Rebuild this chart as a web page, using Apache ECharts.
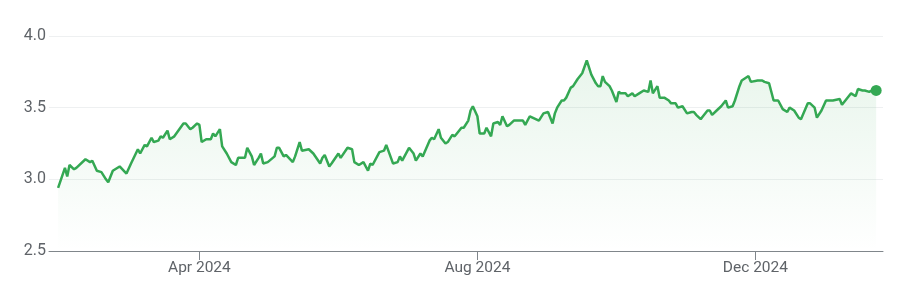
<!DOCTYPE html>
<html>
<head>
<meta charset="utf-8">
<script src="https://cdn.jsdelivr.net/npm/echarts@6/dist/echarts.min.js"></script>
<style>
html,body{margin:0;padding:0;background:#fff;}
#chart{width:903px;height:302px;}
</style>
</head>
<body>
<div id="chart"></div>
<script>
const dates = [
'2024-01-30','2024-02-02','2024-02-03','2024-02-04','2024-02-06','2024-02-07','2024-02-11','2024-02-13','2024-02-14','2024-02-16',
'2024-02-18','2024-02-20','2024-02-21','2024-02-23','2024-02-26','2024-02-29','2024-03-02','2024-03-05','2024-03-06','2024-03-08',
'2024-03-09','2024-03-11','2024-03-12','2024-03-14','2024-03-15','2024-03-16','2024-03-18','2024-03-19','2024-03-21','2024-03-25',
'2024-03-26','2024-03-28','2024-03-29','2024-03-31','2024-04-01','2024-04-02','2024-04-04','2024-04-06','2024-04-07','2024-04-08',
'2024-04-10','2024-04-11','2024-04-13','2024-04-15','2024-04-17','2024-04-18','2024-04-21','2024-04-22','2024-04-24','2024-04-25',
'2024-04-27','2024-04-28','2024-04-29','2024-05-01','2024-05-04','2024-05-05','2024-05-06','2024-05-08','2024-05-09','2024-05-12',
'2024-05-13','2024-05-15','2024-05-16','2024-05-19','2024-05-21','2024-05-24','2024-05-25','2024-05-26','2024-05-28','2024-05-29',
'2024-06-01','2024-06-02','2024-06-05','2024-06-07','2024-06-08','2024-06-10','2024-06-12','2024-06-14','2024-06-15','2024-06-16',
'2024-06-19','2024-06-21','2024-06-22','2024-06-25','2024-06-27','2024-06-28','2024-06-29','2024-07-01','2024-07-02','2024-07-04',
'2024-07-05','2024-07-07','2024-07-08','2024-07-11','2024-07-12','2024-07-13','2024-07-15','2024-07-16','2024-07-18','2024-07-19',
'2024-07-21','2024-07-22','2024-07-23','2024-07-25','2024-07-26','2024-07-28','2024-07-29','2024-07-30','2024-08-01','2024-08-02',
'2024-08-04','2024-08-05','2024-08-07','2024-08-08','2024-08-10','2024-08-11','2024-08-12','2024-08-14','2024-08-15','2024-08-17',
'2024-08-18','2024-08-21','2024-08-22','2024-08-24','2024-08-28','2024-08-30','2024-09-01','2024-09-03','2024-09-04','2024-09-05',
'2024-09-07','2024-09-08','2024-09-09','2024-09-11','2024-09-12','2024-09-14','2024-09-16','2024-09-18','2024-09-20','2024-09-22',
'2024-09-23','2024-09-24','2024-09-25','2024-09-26','2024-09-28','2024-09-29','2024-10-01','2024-10-02','2024-10-03','2024-10-05',
'2024-10-06','2024-10-08','2024-10-09','2024-10-11','2024-10-13','2024-10-15','2024-10-16','2024-10-17','2024-10-19','2024-10-20',
'2024-10-22','2024-10-24','2024-10-25','2024-10-27','2024-10-28','2024-10-30','2024-11-01','2024-11-03','2024-11-04','2024-11-05',
'2024-11-07','2024-11-08','2024-11-10','2024-11-11','2024-11-12','2024-11-14','2024-11-16','2024-11-18','2024-11-19','2024-11-21',
'2024-11-22','2024-11-24','2024-11-25','2024-11-27','2024-11-28','2024-11-29','2024-12-02','2024-12-03','2024-12-04','2024-12-05',
'2024-12-07','2024-12-09','2024-12-11','2024-12-13','2024-12-15','2024-12-16','2024-12-18','2024-12-20','2024-12-21','2024-12-24',
'2024-12-25','2024-12-27','2024-12-28','2024-12-30','2025-01-01','2025-01-04','2025-01-07','2025-01-08','2025-01-10','2025-01-12',
'2025-01-14','2025-01-15','2025-01-17','2025-01-18','2025-01-20','2025-01-21','2025-01-23'
];
const values = [
2.94,3.08,3.02,3.10,3.07,3.08,3.14,3.12,3.13,3.06,
3.05,3.00,2.98,3.06,3.09,3.04,3.11,3.21,3.18,3.24,
3.23,3.29,3.26,3.27,3.30,3.29,3.34,3.28,3.30,3.39,
3.39,3.35,3.36,3.39,3.38,3.26,3.28,3.28,3.32,3.30,
3.35,3.23,3.18,3.12,3.10,3.15,3.15,3.22,3.16,3.10,
3.15,3.18,3.11,3.12,3.16,3.22,3.22,3.16,3.17,3.12,
3.16,3.26,3.20,3.21,3.18,3.11,3.15,3.17,3.09,3.11,
3.18,3.15,3.22,3.21,3.12,3.10,3.12,3.06,3.11,3.10,
3.19,3.20,3.24,3.11,3.12,3.16,3.13,3.19,3.22,3.18,
3.13,3.18,3.16,3.27,3.29,3.28,3.35,3.29,3.25,3.26,
3.31,3.30,3.32,3.36,3.36,3.41,3.48,3.51,3.44,3.32,
3.32,3.36,3.30,3.39,3.40,3.38,3.44,3.37,3.38,3.41,
3.41,3.41,3.38,3.44,3.41,3.46,3.47,3.39,3.46,3.50,
3.55,3.55,3.57,3.64,3.65,3.70,3.74,3.83,3.73,3.67,
3.65,3.65,3.72,3.68,3.65,3.62,3.54,3.61,3.60,3.60,
3.58,3.60,3.58,3.60,3.62,3.61,3.69,3.60,3.65,3.57,
3.57,3.55,3.53,3.53,3.50,3.51,3.46,3.47,3.47,3.45,
3.42,3.44,3.48,3.48,3.45,3.48,3.51,3.55,3.50,3.51,
3.55,3.65,3.69,3.71,3.72,3.68,3.69,3.69,3.69,3.68,
3.67,3.55,3.55,3.49,3.47,3.50,3.48,3.43,3.42,3.53,
3.53,3.50,3.43,3.48,3.55,3.55,3.56,3.52,3.56,3.60,
3.58,3.63,3.62,3.62,3.61,3.62,3.62
];
const xTickDates = ['2024-04-01','2024-08-01','2024-12-01'];
const xRange = ['2024-01-26','2025-01-26'];
const monthNames = ['Jan','Feb','Mar','Apr','May','Jun','Jul','Aug','Sep','Oct','Nov','Dec'];

const ts = d => Date.UTC(+d.slice(0,4), +d.slice(5,7) - 1, +d.slice(8,10));
const seriesData = dates.map((d, i) => [ts(d), values[i]]);
const lastPoint = seriesData[seriesData.length - 1];
const tickTs = xTickDates.map(ts);

const chart = echarts.init(document.getElementById('chart'), null, {renderer: 'canvas'});
chart.setOption({
  animation: false,
  backgroundColor: '#ffffff',
  grid: {left: 49, right: 20, top: 36, bottom: 51, containLabel: false},
  xAxis: {
    type: 'value',
    min: ts(xRange[0]),
    max: ts(xRange[1]),
    axisLine: {show: true, onZero: false, lineStyle: {color: '#80868b', width: 1}},
    axisTick: {show: true, length: 9, lineStyle: {color: '#80868b'}, customValues: tickTs},
    splitLine: {show: false},
    axisLabel: {
      customValues: tickTs,
      color: '#5f6368',
      fontFamily: 'Roboto, Arial, sans-serif',
      fontSize: 15.5,
      margin: 9,
      formatter: function (v) {
        const d = new Date(v);
        return monthNames[d.getUTCMonth()] + ' ' + d.getUTCFullYear();
      }
    }
  },
  yAxis: {
    type: 'value',
    min: 2.5,
    max: 4.0,
    interval: 0.5,
    axisLine: {show: false},
    axisTick: {show: false},
    splitLine: {lineStyle: {color: '#eef0f1', width: 1}},
    axisLabel: {
      color: '#5f6368',
      fontFamily: 'Roboto, Arial, sans-serif',
      fontSize: 16,
      margin: 3,
      formatter: v => v.toFixed(1)
    }
  },
  series: [{
    type: 'line',
    data: seriesData,
    showSymbol: false,
    symbol: 'none',
    lineStyle: {color: '#34a853', width: 2.5},
    itemStyle: {color: '#34a853'},
    areaStyle: {
      origin: 'start',
      color: new echarts.graphic.LinearGradient(0, 0, 0, 1, [
        {offset: 0, color: 'rgba(52,168,83,0.16)'},
        {offset: 1, color: 'rgba(52,168,83,0.0)'}
      ])
    },
    markPoint: {
      symbol: 'circle',
      symbolSize: 11,
      itemStyle: {color: '#34a853'},
      label: {show: false},
      data: [{coord: lastPoint}]
    },
    z: 3
  }]
});
</script>
</body>
</html>
